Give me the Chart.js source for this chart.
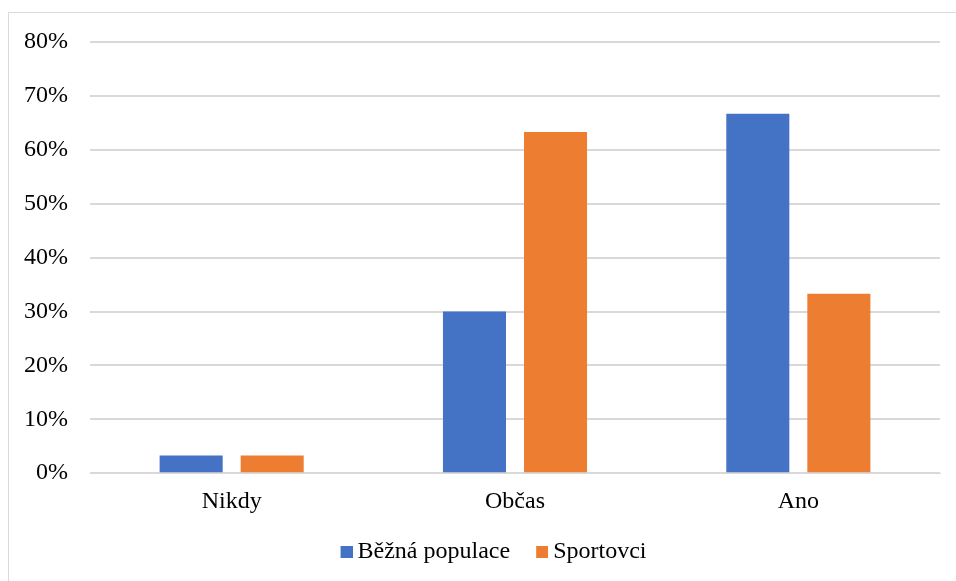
<!DOCTYPE html>
<html><head><meta charset="utf-8">
<script src="https://cdn.jsdelivr.net/npm/chart.js@4"></script>
<style>
html,body{margin:0;padding:0;background:#fff;overflow:hidden;}
#frame{position:absolute;left:8px;top:12px;width:1000px;height:700px;border:1px solid #D9D9D9;box-sizing:border-box;}
#wrap{position:absolute;left:0;top:0;width:956px;height:581px;}
</style></head>
<body>
<div id="frame"></div>
<div id="wrap"><canvas id="c" width="956" height="581"></canvas></div>
<script>
const categories = ["Nikdy", "Občas", "Ano"];
const seriesNames = ["Běžná populace", "Sportovci"];
const bezna = [3.3, 30.0, 66.7];
const sportovci = [3.3, 63.3, 33.3];
const yTicks = [0, 10, 20, 30, 40, 50, 60, 70, 80];
const colors = ['#4472C4', '#ED7D31'];

const FONT = '"Liberation Serif", "Times New Roman", serif';
Chart.defaults.font.family = FONT;
Chart.defaults.color = '#000';

function legendSquare(color) {
  const cv = document.createElement('canvas');
  cv.width = 26; cv.height = 12;
  const g = cv.getContext('2d');
  g.fillStyle = color;
  g.fillRect(14, 0, 12, 12);
  return cv;
}
const markers = colors.map(legendSquare);

const legendShift = {
  id: 'legendShift',
  afterLayout(chart) { if (chart.legend) { chart.legend.left = 40; } }
};

new Chart(document.getElementById('c'), {
  type: 'bar',
  data: {
    labels: categories,
    datasets: [
      {label: seriesNames[0], data: bezna, backgroundColor: colors[0], categoryPercentage: 0.572, barPercentage: 0.778},
      {label: seriesNames[1], data: sportovci, backgroundColor: colors[1], categoryPercentage: 0.572, barPercentage: 0.778}
    ]
  },
  plugins: [legendShift],
  options: {
    responsive: false,
    animation: false,
    layout: {padding: {left: 0, right: 16, top: 42, bottom: 7}},
    plugins: {
      tooltip: {enabled: false},
      legend: {
        position: 'bottom',
        labels: {
          boxWidth: 12, boxHeight: 12, font: {size: 24}, padding: 19, color: '#000',
          usePointStyle: true,
          generateLabels: (chart) => {
            const items = Chart.defaults.plugins.legend.labels.generateLabels(chart);
            items.forEach((it, i) => { it.pointStyle = markers[i]; });
            return items;
          }
        }
      }
    },
    scales: {
      x: {
        afterFit: (s) => { s.height -= 9; },
        grid: {display: false, drawTicks: false},
        border: {display: true, color: '#D9D9D9', width: 1},
        ticks: {font: {size: 24}, padding: 14, color: '#000'}
      },
      y: {
        min: 0, max: 80,
        afterBuildTicks: (s) => { s.ticks = yTicks.map(v => ({value: v})); },
        afterFit: (s) => { s.width = 90; },
        grid: {color: '#D9D9D9', lineWidth: 2, drawTicks: false},
        border: {display: false},
        ticks: {font: {size: 24}, padding: 22, color: '#000', callback: v => v + '%'}
      }
    }
  }
});
</script>
</body></html>
